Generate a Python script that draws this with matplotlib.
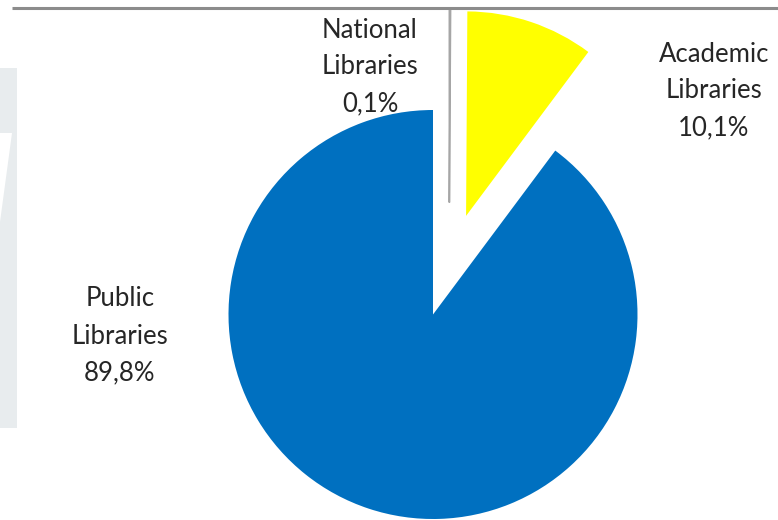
import numpy as np
import matplotlib
matplotlib.use("Agg")
import matplotlib.pyplot as plt
from matplotlib.patches import Polygon

# data
categories = ["National\nLibraries", "Academic\nLibraries", "Public\nLibraries"]
shares = [0.1, 10.1, 89.8]
colors = ["#A6A6A6", "#FFFF00", "#0070C0"]

W, H = 778, 520
fig = plt.figure(figsize=(W / 100, H / 100), dpi=100)

## background: top rule + faint watermark on the left
bg = fig.add_axes([0, 0, 1, 1])
bg.set_xlim(0, W)
bg.set_ylim(H, 0)
bg.axis("off")
bg.plot([12, W], [8, 8], color="#8C8C8C", lw=2.2, solid_capstyle="butt")
bg.add_patch(Polygon([(0, 68), (17, 68), (17, 428), (0, 428)], closed=True,
                     facecolor="#E8ECEE", edgecolor="none"))
bg.add_patch(Polygon([(0, 133), (12, 133), (0, 222)], closed=True,
                     facecolor="white", edgecolor="none"))

## pie, in pixel-like units (y up), clipped just under the rule
ax = fig.add_axes([0, 0, 1, 510 / H])
ax.patch.set_alpha(0)

radius = 204.5
center = (433, 205.5)
explode = [112, 104, 0]

wedges, _ = ax.pie(shares, colors=colors, explode=explode, radius=radius,
                   center=center, startangle=90, counterclock=False,
                   frame=True, wedgeprops=dict(linewidth=0))
ax.set_xlim(0, W)
ax.set_ylim(0, 510)
ax.axis("off")

# national slice is a hairline, shifted a bit right like in the original
nat = wedges[0]
nat.set_center((nat.center[0] + 16, nat.center[1]))
nat.set_edgecolor("#A6A6A6")
nat.set_linewidth(1.2)
for w in wedges:
    w.set_clip_on(True)

## labels
fmt = lambda v: f"{v:.1f}".replace(".", ",") + "%"
label_pos = [(370, 67), (714, 91), (120, 336)]
for cat, v, (px, py) in zip(categories, shares, label_pos):
    ax.text(px, 520 - py, f"{cat}\n{fmt(v)}", ha="center", va="center",
            fontsize=18.5, family=["Lato", "DejaVu Sans"], color="#262626",
            linespacing=1.6)

fig.savefig("out.png", dpi=100)
